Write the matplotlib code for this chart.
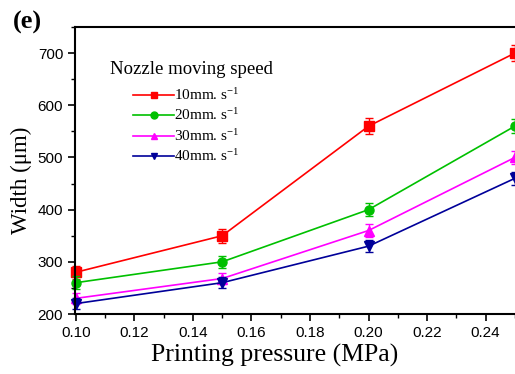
import matplotlib
matplotlib.use("Agg")
import matplotlib.pyplot as plt
from matplotlib.ticker import MultipleLocator, FormatStrFormatter

plt.rcParams['mathtext.fontset'] = 'custom'
plt.rcParams['mathtext.rm'] = 'Liberation Serif'
plt.rcParams['mathtext.it'] = 'Liberation Serif:italic'

pressure = [0.10, 0.15, 0.20, 0.25]
labels = ["10mm. s$^{-1}$", "20mm. s$^{-1}$", "30mm. s$^{-1}$", "40mm. s$^{-1}$"]
w10 = [280, 350, 560, 700]
w20 = [260, 300, 400, 560]
w30 = [230, 268, 360, 500]
w40 = [220, 260, 330, 460]
e10 = [12, 13, 15, 16]
e20 = [12, 12, 13, 14]
e30 = [11, 11, 12, 13]
e40 = [10, 10, 11, 12]
colors = ["#ff0000", "#00c000", "#ff00ff", "#000099"]
markers = ["s", "o", "^", "v"]

fig = plt.figure(figsize=(5.15, 3.74), dpi=100)
ax = fig.add_axes([75/515, 60/374, (519.3-75)/515, (314-27)/374])

series = [(w10, e10), (w20, e20), (w30, e30), (w40, e40)]
handles = []
for (w, e), c, m, lab in zip(series, colors, markers, labels):
    ax.errorbar(pressure, w, yerr=e, color=c, fmt='none',
                capsize=3, elinewidth=1.0, capthick=1.0, clip_on=False)
    ax.plot(pressure, w, color=c, marker=m, markersize=6.5,
            linewidth=1.2, clip_on=False)
    h, = ax.plot([], [], color=c, marker=m, markersize=5, linewidth=1.2,
                 label=lab)
    handles.append(h)

ax.set_xlim(0.0997, 0.2515)
ax.set_ylim(200, 750)
ax.set_xticks([0.10, 0.12, 0.14, 0.16, 0.18, 0.20, 0.22, 0.24])
ax.xaxis.set_minor_locator(MultipleLocator(0.01))
ax.set_yticks([200, 300, 400, 500, 600, 700])
ax.yaxis.set_minor_locator(MultipleLocator(50))
ax.xaxis.set_major_formatter(FormatStrFormatter('%.2f'))
ax.tick_params(which='major', direction='out', length=5, width=1.2,
               labelsize=11)
ax.tick_params(which='minor', direction='out', length=3, width=1.0)
for s in ax.spines.values():
    s.set_linewidth(1.5)

ax.set_xlabel("Printing pressure (MPa)", fontfamily='Liberation Serif',
              fontsize=18.5)
ax.xaxis.set_label_coords((275 - 75) / 444.3, -(355 - 314) / 287,
                          transform=ax.transAxes)
ax.xaxis.label.set_va('center')
ax.set_ylabel("Width (\u03bcm)", fontfamily='Liberation Serif',
              fontsize=16.5)
ax.yaxis.set_label_coords(-(75 - 21) / 444.3, (314 - 180) / 287,
                          transform=ax.transAxes)
ax.yaxis.label.set_va('center')
for lbl in ax.get_xticklabels() + ax.get_yticklabels():
    lbl.set_fontfamily('Liberation Sans')

fig.text(110/515, 1 - 70/374, "Nozzle moving speed",
         fontfamily='Liberation Serif', fontsize=13.5, va='center', ha='left')
leg = ax.legend(handles=handles, loc='upper left',
                bbox_to_anchor=(133/515, 1 - 87/374),
                bbox_transform=fig.transFigure, frameon=False,
                prop={'family': 'Liberation Serif', 'size': 11},
                handlelength=2.7, handletextpad=0.0, labelspacing=0.3,
                borderaxespad=0, borderpad=0)

fig.text(13/515, 1 - 22/374, "(e)", fontfamily='Liberation Serif',
         fontweight='bold', fontsize=19, va='center', ha='left')

fig.savefig("out.png", dpi=100)
